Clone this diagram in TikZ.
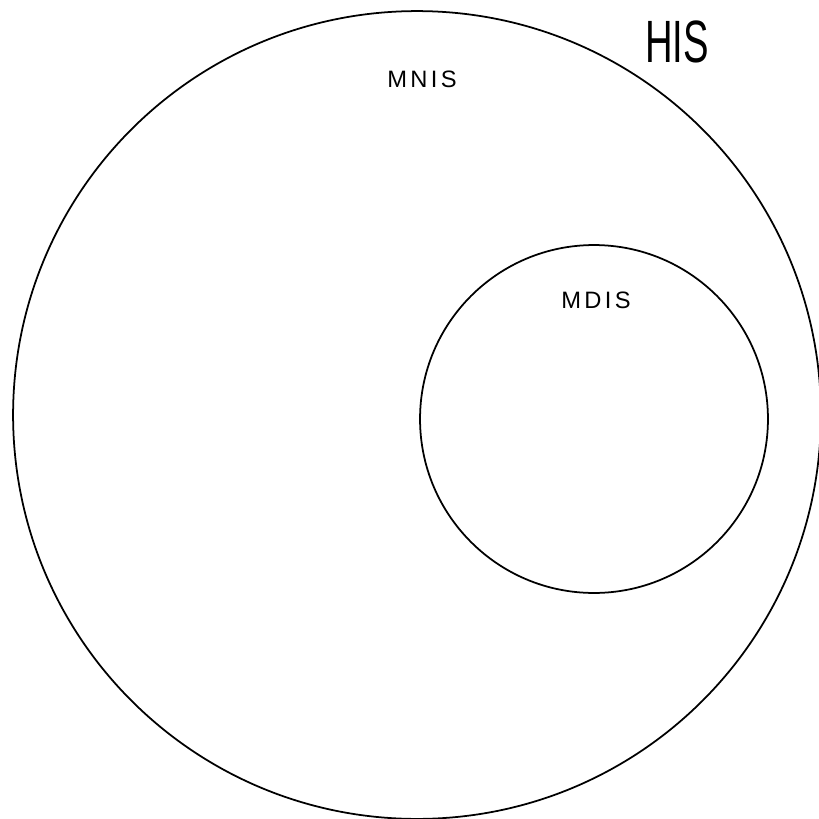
\documentclass[tikz,border=0pt]{standalone}
\usepackage{fontspec}
\setmainfont{Liberation Sans}
\newfontfamily\labelfont[LetterSpace=14]{Liberation Sans}
\usetikzlibrary{positioning}
\begin{document}
\begin{tikzpicture}[x=0.02cm,y=-0.02cm,
  every node/.style={inner sep=0pt},
  setring/.style={circle, draw=black, line width=1pt},
  setname/.style={font=\labelfont\fontsize{13.5}{15}\selectfont},
]
\useasboundingbox (0,0) rectangle (819,819);
\node[setring, minimum size=16.16cm] (mnis) at (417,415) {};
\node[setring, minimum size=6.96cm]  (mdis) at (594,419) {};
\node[setname] (mnislbl) at (422,79)  {MNIS};
\node[setname] (mdislbl) at (596,300) {MDIS};
\node[font=\fontsize{34}{36}\selectfont, xscale=0.64] (his) at (677,42) {HIS};
\end{tikzpicture}
\end{document}
